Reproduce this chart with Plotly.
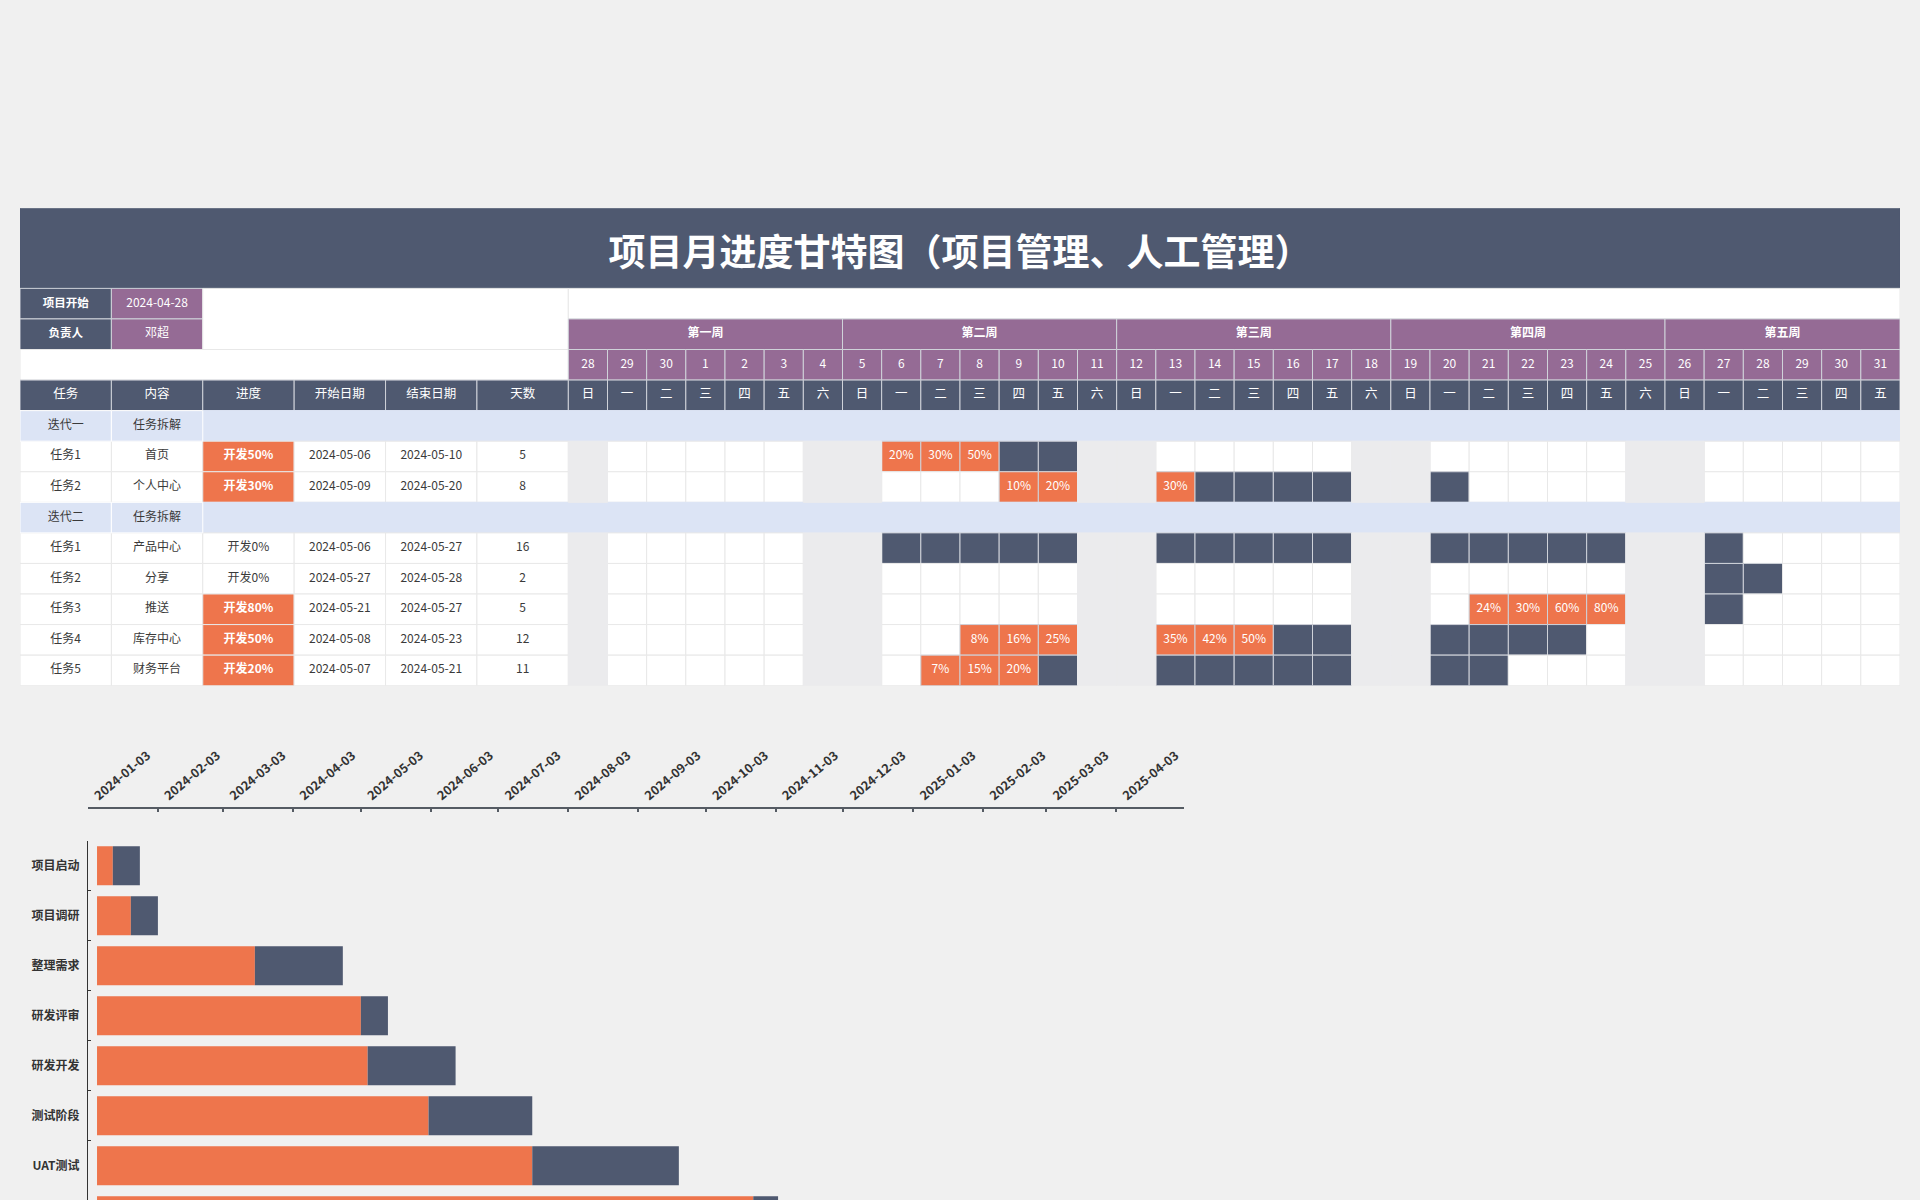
import plotly.graph_objects as go
import pandas as pd

# ---------------- data: monthly gantt table ----------------
title_text = "项目月进度甘特图（项目管理、人工管理）"
info_labels = ["项目开始", "负责人"]
info_values = ["2024-04-28", "邓超"]
col_headers = ["任务", "内容", "进度", "开始日期", "结束日期", "天数"]
week_labels = ["第一周", "第二周", "第三周", "第四周", "第五周"]
weekday_names = ["一", "二", "三", "四", "五", "六", "日"]  # Monday first
calendar_start = "2024-04-28"
calendar_end = "2024-05-31"

groups = ["迭代一", "迭代二"]
group_desc = ["任务拆解", "任务拆解"]
task_group = [0, 0, 1, 1, 1, 1, 1]
task_names = ["任务1", "任务2", "任务1", "任务2", "任务3", "任务4", "任务5"]
task_contents = ["首页", "个人中心", "产品中心", "分享", "推送", "库存中心", "财务平台"]
task_progress = [50, 30, 0, 0, 80, 50, 20]
task_starts = ["2024-05-06", "2024-05-09", "2024-05-06", "2024-05-27",
               "2024-05-21", "2024-05-08", "2024-05-07"]
task_ends = ["2024-05-10", "2024-05-20", "2024-05-27", "2024-05-28",
             "2024-05-27", "2024-05-23", "2024-05-21"]
task_days = [5, 8, 16, 2, 5, 12, 11]
task_daily_done = [
    ["20%", "30%", "50%"],
    ["10%", "20%", "30%"],
    [],
    [],
    ["24%", "30%", "60%", "80%"],
    ["8%", "16%", "25%", "35%", "42%", "50%"],
    ["7%", "15%", "20%"],
]

# ---------------- data: phase bar chart ----------------
phases = ["项目启动", "项目调研", "整理需求", "研发评审", "研发开发", "测试阶段", "UAT测试", "上线发布"]
phase_begin = ["2024-01-07"] * 8
phase_mid = ["2024-01-14", "2024-01-22", "2024-03-17", "2024-05-03",
             "2024-05-06", "2024-06-02", "2024-07-18", "2024-10-24"]
phase_end = ["2024-01-26", "2024-02-03", "2024-04-25", "2024-05-15",
             "2024-06-14", "2024-07-18", "2024-09-21", "2024-11-04"]
axis_ticks = ["2024-01-03", "2024-02-03", "2024-03-03", "2024-04-03", "2024-05-03",
              "2024-06-03", "2024-07-03", "2024-08-03", "2024-09-03", "2024-10-03",
              "2024-11-03", "2024-12-03", "2025-01-03", "2025-02-03", "2025-03-03",
              "2025-04-03"]
axis_end = "2025-05-03"

# ---------------- styling ----------------
NAVY = "#4f5970"
ORANGE = "#ee754c"
PURPLE = "#956b95"
BLUE = "#dce4f5"
GRAY = "#ebebed"
WHITE = "#ffffff"
GRID = "#e8e8e8"
HEAD_LINE = "#cfd2d9"
TXT = "#3a3a3a"
FONT = "Noto Sans CJK SC, Noto Sans, sans-serif"

days = pd.date_range(calendar_start, calendar_end, freq="D")
n_days = len(days)
LW = 7 / 3
LEFT_W = 6 * LW
X_TOTAL = LEFT_W + n_days
TITLE_H = 2.62
N_ROWS = 13


def row_top(k):
    return TITLE_H + (k - 1)


cells, late_cells, texts = [], [], []


def cell(x0, x1, y0, y1, fill, line, text=None, color="#ffffff", size=12,
         bold=False, late=False, dy=0.0):
    (late_cells if late else cells).append((x0, x1, y0, y1, fill, line))
    if text is not None and text != "":
        t = f"<b>{text}</b>" if bold else text
        texts.append(((x0 + x1) / 2, (y0 + y1) / 2 + dy, t, color, size))


# title
cell(0, X_TOTAL, 0, TITLE_H, NAVY, NAVY, title_text, WHITE, 37, True, dy=0.27)

# info rows
for i in range(2):
    y0 = row_top(1 + i)
    cell(0, LW, y0, y0 + 1, NAVY, HEAD_LINE, info_labels[i], WHITE, 11.5, True)
    cell(LW, 2 * LW, y0, y0 + 1, PURPLE, HEAD_LINE, info_values[i], WHITE, 12)
cell(2 * LW, LEFT_W, row_top(1), row_top(3), WHITE, GRID)
cell(LEFT_W, X_TOTAL, row_top(1), row_top(2), WHITE, GRID)

# week headers
for w, lab in enumerate(week_labels):
    idx = [j for j in range(n_days) if j // 7 == w]
    if idx:
        cell(LEFT_W + idx[0], LEFT_W + idx[-1] + 1, row_top(2), row_top(3),
             PURPLE, HEAD_LINE, lab, WHITE, 12, True)

# day numbers row
cell(0, LEFT_W, row_top(3), row_top(4), WHITE, GRID)
for j, d in enumerate(days):
    cell(LEFT_W + j, LEFT_W + j + 1, row_top(3), row_top(4), PURPLE, HEAD_LINE,
         str(d.day), WHITE, 12)

# column headers row
for i, h in enumerate(col_headers):
    cell(i * LW, (i + 1) * LW, row_top(4), row_top(5), NAVY, HEAD_LINE, h, WHITE, 12.5)
for j, d in enumerate(days):
    cell(LEFT_W + j, LEFT_W + j + 1, row_top(4), row_top(5), NAVY, HEAD_LINE,
         weekday_names[d.weekday()], WHITE, 12.5)

# task area
r = 5
for g, gname in enumerate(groups):
    y0 = row_top(r)
    cell(2 * LW, X_TOTAL, y0, y0 + 1, BLUE, BLUE)
    cell(0, LW, y0, y0 + 1, BLUE, WHITE, gname, TXT, 12, late=True)
    cell(LW, 2 * LW, y0, y0 + 1, BLUE, WHITE, group_desc[g], TXT, 12, late=True)
    r += 1
    for t in range(len(task_names)):
        if task_group[t] != g:
            continue
        y0 = row_top(r)
        vals = [task_names[t], task_contents[t], None, task_starts[t], task_ends[t],
                str(task_days[t])]
        for i, v in enumerate(vals):
            if i == 2:
                p = task_progress[t]
                if p > 0:
                    cell(i * LW, (i + 1) * LW, y0, y0 + 1, ORANGE, GRID,
                         f"开发{p}%", WHITE, 12, True)
                else:
                    cell(i * LW, (i + 1) * LW, y0, y0 + 1, WHITE, GRID,
                         f"开发{p}%", TXT, 12)
            else:
                cell(i * LW, (i + 1) * LW, y0, y0 + 1, WHITE, GRID, v, TXT, 12)
        s = pd.Timestamp(task_starts[t])
        e = pd.Timestamp(task_ends[t])
        k = 0
        for j, d in enumerate(days):
            x0 = LEFT_W + j
            weekend = d.weekday() >= 5
            if weekend:
                cell(x0, x0 + 1, y0, y0 + 1, GRAY, GRAY, late=True)
            elif s <= d <= e:
                done = task_daily_done[t]
                if k < len(done):
                    cell(x0, x0 + 1, y0, y0 + 1, ORANGE, HEAD_LINE, done[k], WHITE, 12)
                else:
                    cell(x0, x0 + 1, y0, y0 + 1, NAVY, HEAD_LINE)
                k += 1
            else:
                cell(x0, x0 + 1, y0, y0 + 1, WHITE, GRID)
        r += 1

all_cells = cells + late_cells

fig = go.Figure()

fig.add_trace(go.Bar(
    orientation="h",
    base=[c[0] for c in all_cells],
    x=[c[1] - c[0] for c in all_cells],
    y=[(c[2] + c[3]) / 2 for c in all_cells],
    width=[c[3] - c[2] for c in all_cells],
    marker=dict(color=[c[4] for c in all_cells],
                line=dict(color=[c[5] for c in all_cells], width=1)),
    xaxis="x2", yaxis="y2", hoverinfo="skip", showlegend=False,
))

fig.add_trace(go.Scatter(
    x=[t[0] for t in texts], y=[t[1] for t in texts],
    text=[t[2] for t in texts], mode="text", textposition="middle center",
    textfont=dict(color=[t[3] for t in texts], size=[t[4] for t in texts],
                  family=FONT),
    xaxis="x2", yaxis="y2", hoverinfo="skip", showlegend=False, cliponaxis=False,
))

# phase bars (orange part + navy part)
ms = lambda a, b: [(pd.Timestamp(y) - pd.Timestamp(x)).total_seconds() * 1000
                   for x, y in zip(a, b)]
fig.add_trace(go.Bar(
    orientation="h", y=phases, base=phase_begin, x=ms(phase_begin, phase_mid),
    width=0.78, marker=dict(color=ORANGE, line=dict(width=0)),
    hoverinfo="skip", showlegend=False,
))
fig.add_trace(go.Bar(
    orientation="h", y=phases, base=phase_mid, x=ms(phase_mid, phase_end),
    width=0.78, marker=dict(color=NAVY, line=dict(width=0)),
    hoverinfo="skip", showlegend=False,
))

fig.update_layout(
    width=1920, height=1200, autosize=False,
    margin=dict(l=0, r=0, t=0, b=0, pad=0, autoexpand=False),
    paper_bgcolor="#f0f0f0", plot_bgcolor="rgba(0,0,0,0)",
    barmode="overlay", showlegend=False,
    font=dict(family=FONT, color="#333333"),
    xaxis=dict(
        type="date", domain=[88 / 1920, 1184 / 1920],
        range=[axis_ticks[0], axis_end], automargin=False,
        side="top", anchor="free", position=1 - 808 / 1200,
        tickmode="array", tickvals=axis_ticks + [axis_end], ticktext=axis_ticks + [""],
        tickangle=-40, tickfont=dict(size=12.5, weight="bold", color="#333333"),
        ticklabelshift=7,
        ticks="inside", ticklen=3, tickcolor="#555b63", tickwidth=1.5,
        showline=True, linecolor="#555b63", linewidth=1.5,
        showgrid=False, zeroline=False, fixedrange=True,
    ),
    yaxis=dict(
        domain=[0, 1 - 840.7 / 1200], anchor="x", type="category",
        categoryorder="array", categoryarray=phases, automargin=False,
        range=[6.686, -0.5], tickson="boundaries",
        ticks="inside", ticklen=3, tickcolor="#333333",
        showline=True, linecolor="#333333", linewidth=1,
        tickfont=dict(size=12, weight="bold", color="#333333"),
        ticklabelstandoff=5,
        showgrid=False, zeroline=False, fixedrange=True,
    ),
    xaxis2=dict(domain=[20 / 1920, 1900 / 1920], range=[0, X_TOTAL], visible=False,
                anchor="y2", fixedrange=True),
    yaxis2=dict(domain=[1 - 685.7 / 1200, 1 - 208.3 / 1200],
                range=[TITLE_H + N_ROWS, 0], visible=False, anchor="x2", fixedrange=True),
)

fig.write_html(
    "out.html",
    config={"displayModeBar": False},
    post_script="document.body.style.margin='0';document.body.style.overflow='hidden';",
)
